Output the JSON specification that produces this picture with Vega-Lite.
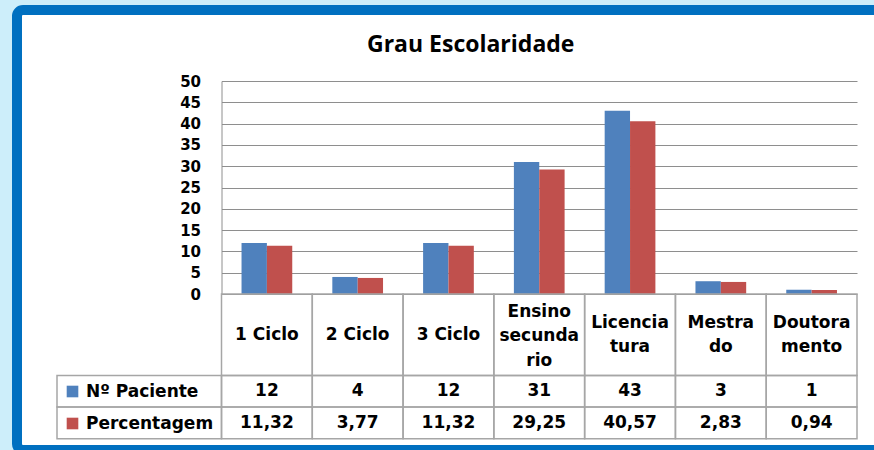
{
  "$schema": "https://vega.github.io/schema/vega-lite/v6.json",
  "width": 874,
  "height": 450,
  "autosize": {"type": "fit", "contains": "padding"},
  "padding": {"left": 17, "top": 10, "right": -6, "bottom": 0},
  "background": "#CDEEFA",
  "title": {
    "text": "Grau Escolaridade",
    "font": "Open Sans",
    "fontSize": 23,
    "fontWeight": "bold",
    "color": "#000000",
    "anchor": "start",
    "frame": "group",
    "offset": -58,
    "baseline": "middle",
    "dx": 350
  },
  "datasets": {
    "bars": [
      {"cat": "1 Ciclo", "serie": "Nº Paciente", "value": 12},
      {"cat": "1 Ciclo", "serie": "Percentagem", "value": 11.32},
      {"cat": "2 Ciclo", "serie": "Nº Paciente", "value": 4},
      {"cat": "2 Ciclo", "serie": "Percentagem", "value": 3.77},
      {"cat": "3 Ciclo", "serie": "Nº Paciente", "value": 12},
      {"cat": "3 Ciclo", "serie": "Percentagem", "value": 11.32},
      {"cat": "Ensino secundario", "serie": "Nº Paciente", "value": 31},
      {"cat": "Ensino secundario", "serie": "Percentagem", "value": 29.25},
      {"cat": "Licenciatura", "serie": "Nº Paciente", "value": 43},
      {"cat": "Licenciatura", "serie": "Percentagem", "value": 40.57},
      {"cat": "Mestrado", "serie": "Nº Paciente", "value": 3},
      {"cat": "Mestrado", "serie": "Percentagem", "value": 2.83},
      {"cat": "Doutoramento", "serie": "Nº Paciente", "value": 1},
      {"cat": "Doutoramento", "serie": "Percentagem", "value": 0.94}
    ],
    "cats": [
      {"cat": "1 Ciclo", "header": "1 Ciclo"},
      {"cat": "2 Ciclo", "header": "2 Ciclo"},
      {"cat": "3 Ciclo", "header": "3 Ciclo"},
      {"cat": "Ensino secundario", "header": "Ensino|secunda|rio"},
      {"cat": "Licenciatura", "header": "Licencia|tura"},
      {"cat": "Mestrado", "header": "Mestra|do"},
      {"cat": "Doutoramento", "header": "Doutora|mento"}
    ]
  },
  "layer": [
    {
      "data": {"name": "bars"},
      "mark": {"type": "bar"},
      "encoding": {
        "x": {"field": "cat", "type": "nominal", "axis": null,
          "scale": {"domain": ["1 Ciclo", "2 Ciclo", "3 Ciclo", "Ensino secundario", "Licenciatura", "Mestrado", "Doutoramento"], "range": [204.5, 840], "paddingInner": 0, "paddingOuter": 0}},
        "xOffset": {"field": "serie", "type": "nominal",
          "scale": {"domain": ["Nº Paciente", "Percentagem"], "paddingInner": 0, "paddingOuter": 0.79}},
        "y": {"field": "value", "type": "quantitative",
          "scale": {"domain": [0, 50], "range": [284, 71], "nice": false},
          "axis": {"values": [0, 5, 10, 15, 20, 25, 30, 35, 40, 45, 50], "offset": -204.5, "grid": true, "gridColor": "#8E8E8E", "gridWidth": 1, "domainColor": "#8E8E8E", "domainWidth": 1, "ticks": false, "labelPadding": 21, "labelFont": "DejaVu Sans", "labelFontSize": 15, "labelFontWeight": "bold", "labelColor": "#000000", "title": null}},
        "color": {"field": "serie", "type": "nominal",
          "scale": {"domain": ["Nº Paciente", "Percentagem"], "range": ["#4F81BD", "#C0504D"]},
          "legend": {"orient": "none", "legendX": 47, "legendY": 373, "title": null, "symbolType": "square", "symbolSize": 135, "symbolStrokeWidth": 0, "symbolOpacity": 1, "labelFont": "DejaVu Sans", "labelFontSize": 17, "labelFontWeight": "bold", "labelColor": "#000000", "rowPadding": 14, "labelOffset": 5, "padding": 0, "direction": "vertical"}}
      }
    },
    {
      "data": {"name": "cats"},
      "mark": {"type": "rect", "fill": "transparent", "stroke": "#A6A6A6", "strokeWidth": 1.5},
      "encoding": {
        "x": {"field": "cat", "type": "nominal", "axis": null,
          "scale": {"domain": ["1 Ciclo", "2 Ciclo", "3 Ciclo", "Ensino secundario", "Licenciatura", "Mestrado", "Doutoramento"], "range": [204.5, 840], "paddingInner": 0, "paddingOuter": 0}},
        "y": {"datum": "h", "type": "nominal", "axis": null,
          "scale": {"domain": ["h"], "range": [284, 365.5], "paddingInner": 0, "paddingOuter": 0}}
      }
    },
    {
      "data": {"name": "cats"},
      "transform": [{"filter": "length(split(datum.header, '|')) == 1"}],
      "mark": {"type": "text", "font": "DejaVu Sans", "fontSize": 17, "fontWeight": "bold", "lineBreak": "|", "lineHeight": 24.5, "baseline": "middle", "align": "center", "color": "#000000"},
      "encoding": {
        "x": {"field": "cat", "type": "nominal", "axis": null,
          "scale": {"domain": ["1 Ciclo", "2 Ciclo", "3 Ciclo", "Ensino secundario", "Licenciatura", "Mestrado", "Doutoramento"], "range": [204.5, 840], "paddingInner": 0, "paddingOuter": 0}},
        "y": {"datum": "h", "type": "nominal", "axis": null,
          "scale": {"domain": ["h"], "range": [284, 365.5], "paddingInner": 0, "paddingOuter": 0}},
        "text": {"field": "header", "type": "nominal"}
      }
    },
    {
      "data": {"name": "cats"},
      "transform": [{"filter": "length(split(datum.header, '|')) == 2"}],
      "mark": {"type": "text", "font": "DejaVu Sans", "fontSize": 17, "fontWeight": "bold", "lineBreak": "|", "lineHeight": 24.5, "baseline": "middle", "align": "center", "color": "#000000", "dy": -12},
      "encoding": {
        "x": {"field": "cat", "type": "nominal", "axis": null,
          "scale": {"domain": ["1 Ciclo", "2 Ciclo", "3 Ciclo", "Ensino secundario", "Licenciatura", "Mestrado", "Doutoramento"], "range": [204.5, 840], "paddingInner": 0, "paddingOuter": 0}},
        "y": {"datum": "h", "type": "nominal", "axis": null,
          "scale": {"domain": ["h"], "range": [284, 365.5], "paddingInner": 0, "paddingOuter": 0}},
        "text": {"field": "header", "type": "nominal"}
      }
    },
    {
      "data": {"name": "cats"},
      "transform": [{"filter": "length(split(datum.header, '|')) == 3"}],
      "mark": {"type": "text", "font": "DejaVu Sans", "fontSize": 17, "fontWeight": "bold", "lineBreak": "|", "lineHeight": 24.5, "baseline": "middle", "align": "center", "color": "#000000", "dy": -23},
      "encoding": {
        "x": {"field": "cat", "type": "nominal", "axis": null,
          "scale": {"domain": ["1 Ciclo", "2 Ciclo", "3 Ciclo", "Ensino secundario", "Licenciatura", "Mestrado", "Doutoramento"], "range": [204.5, 840], "paddingInner": 0, "paddingOuter": 0}},
        "y": {"datum": "h", "type": "nominal", "axis": null,
          "scale": {"domain": ["h"], "range": [284, 365.5], "paddingInner": 0, "paddingOuter": 0}},
        "text": {"field": "header", "type": "nominal"}
      }
    },
    {
      "data": {"name": "bars"},
      "mark": {"type": "rect", "fill": "transparent", "stroke": "#A6A6A6", "strokeWidth": 1.5},
      "encoding": {
        "x": {"field": "cat", "type": "nominal", "axis": null,
          "scale": {"domain": ["1 Ciclo", "2 Ciclo", "3 Ciclo", "Ensino secundario", "Licenciatura", "Mestrado", "Doutoramento"], "range": [204.5, 840], "paddingInner": 0, "paddingOuter": 0}},
        "y": {"field": "serie", "type": "nominal", "axis": null,
          "scale": {"domain": ["Nº Paciente", "Percentagem"], "range": [365.5, 428.7], "paddingInner": 0, "paddingOuter": 0}}
      }
    },
    {
      "data": {"name": "bars"},
      "transform": [{"filter": "datum.serie == 'Nº Paciente'"}],
      "mark": {"type": "text", "font": "DejaVu Sans", "fontSize": 17, "fontWeight": "bold", "baseline": "middle", "align": "center", "color": "#000000"},
      "encoding": {
        "x": {"field": "cat", "type": "nominal", "axis": null,
          "scale": {"domain": ["1 Ciclo", "2 Ciclo", "3 Ciclo", "Ensino secundario", "Licenciatura", "Mestrado", "Doutoramento"], "range": [204.5, 840], "paddingInner": 0, "paddingOuter": 0}},
        "y": {"field": "serie", "type": "nominal", "axis": null,
          "scale": {"domain": ["Nº Paciente", "Percentagem"], "range": [365.5, 428.7], "paddingInner": 0, "paddingOuter": 0}},
        "text": {"field": "value", "type": "quantitative", "format": "d"}
      }
    },
    {
      "data": {"name": "bars"},
      "transform": [{"filter": "datum.serie == 'Percentagem'"}],
      "mark": {"type": "text", "font": "DejaVu Sans", "fontSize": 17, "fontWeight": "bold", "baseline": "middle", "align": "center", "color": "#000000"},
      "encoding": {
        "x": {"field": "cat", "type": "nominal", "axis": null,
          "scale": {"domain": ["1 Ciclo", "2 Ciclo", "3 Ciclo", "Ensino secundario", "Licenciatura", "Mestrado", "Doutoramento"], "range": [204.5, 840], "paddingInner": 0, "paddingOuter": 0}},
        "y": {"field": "serie", "type": "nominal", "axis": null,
          "scale": {"domain": ["Nº Paciente", "Percentagem"], "range": [365.5, 428.7], "paddingInner": 0, "paddingOuter": 0}},
        "text": {"field": "value", "type": "quantitative", "format": ".2f"}
      }
    },
    {
      "data": {"name": "bars"},
      "transform": [{"filter": "datum.cat == '1 Ciclo'"}],
      "mark": {"type": "rect", "fill": "transparent", "stroke": "#A6A6A6", "strokeWidth": 1.5},
      "encoding": {
        "x": {"datum": "rotulo", "type": "nominal", "axis": null,
          "scale": {"domain": ["rotulo"], "range": [40, 204.5], "paddingInner": 0, "paddingOuter": 0}},
        "y": {"field": "serie", "type": "nominal", "axis": null,
          "scale": {"domain": ["Nº Paciente", "Percentagem"], "range": [365.5, 428.7], "paddingInner": 0, "paddingOuter": 0}}
      }
    }
  ],
  "resolve": {"scale": {"x": "independent", "y": "independent"}},
  "config": {
    "view": {"stroke": "#0070C0", "strokeWidth": 10, "fill": "white", "cornerRadius": 6},
    "locale": {"number": {"decimal": ",", "thousands": ".", "grouping": [3], "currency": ["", " €"]}}
  }
}
